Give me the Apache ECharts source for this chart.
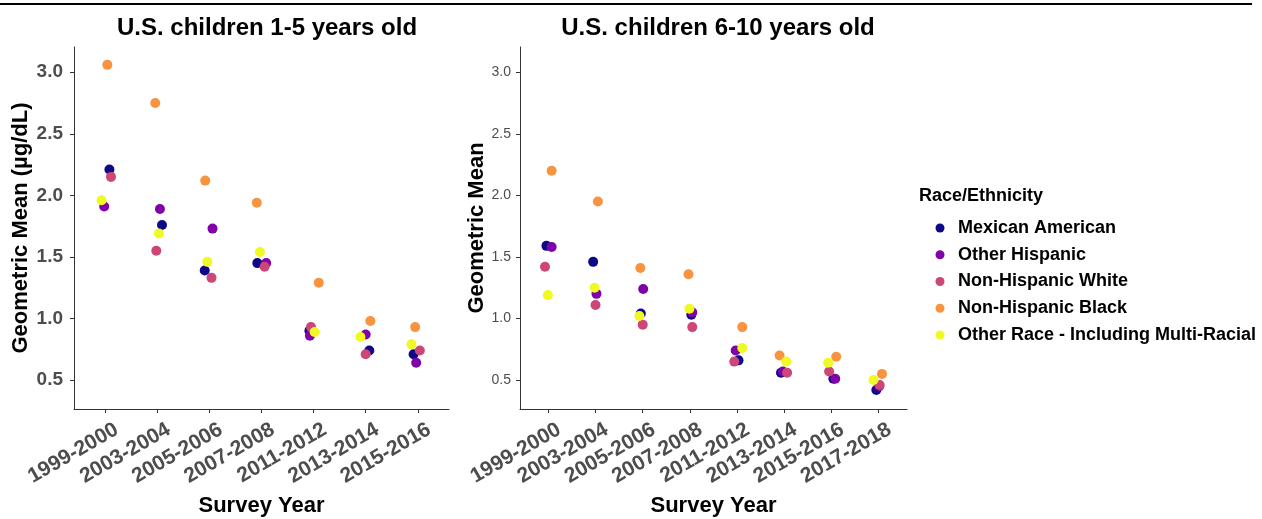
<!DOCTYPE html>
<html>
<head>
<meta charset="utf-8">
<script src="https://cdn.jsdelivr.net/npm/echarts@6/dist/echarts.min.js"></script>
<style>
html,body{margin:0;padding:0;background:#fff;}
#main{width:1262px;height:519px;}
</style>
</head>
<body>
<div id="main"></div>
<script>
// ---- categories ----
const yearsA = ['1999-2000','2003-2004','2005-2006','2007-2008','2011-2012','2013-2014','2015-2016'];
const yearsB = ['1999-2000','2003-2004','2005-2006','2007-2008','2011-2012','2013-2014','2015-2016','2017-2018'];
const groups = ['Mexican American','Other Hispanic','Non-Hispanic White','Non-Hispanic Black','Other Race - Including Multi-Racial'];
const colors = ['#0D0887','#7E03A8','#CC4678','#F89441','#F0F921'];
const yTicks = [0.5, 1.0, 1.5, 2.0, 2.5, 3.0];

// ---- panel A: children 1-5 years (geometric mean, µg/dL) ----
const mexicanA   = [2.21, 1.76, 1.39, 1.45, 0.90, 0.74, 0.71];
const otherHispA = [1.91, 1.89, 1.73, 1.45, 0.86, 0.87, 0.64];
const whiteA     = [2.15, 1.55, 1.33, 1.42, 0.93, 0.71, 0.74];
const blackA     = [3.06, 2.75, 2.12, 1.94, 1.29, 0.98, 0.93];
const otherRaceA = [1.96, 1.69, 1.46, 1.54, 0.89, 0.85, 0.79];
// horizontal jitter (category units)
const jitMexicanA   = [0.08, 0.09, -0.09, -0.08, -0.08, 0.07, -0.08];
const jitOtherHispA = [-0.02, 0.05, 0.06, 0.09, -0.07, 0.00, -0.03];
const jitWhiteA     = [0.11, -0.02, 0.04, 0.06, -0.05, 0.00, 0.04];
const jitBlackA     = [0.04, -0.04, -0.08, -0.09, 0.10, 0.09, -0.05];
const jitOtherRaceA = [-0.07, 0.03, -0.04, -0.03, 0.02, -0.10, -0.12];

// ---- panel B: children 6-10 years ----
const mexicanB   = [1.59, 1.46, 1.04, 1.03, 0.66, 0.56, 0.51, 0.42];
const otherHispB = [1.58, 1.20, 1.24, 1.05, 0.74, 0.57, 0.51, 0.45];
const whiteB     = [1.42, 1.11, 0.95, 0.93, 0.65, 0.56, 0.57, 0.46];
const blackB     = [2.20, 1.95, 1.41, 1.36, 0.93, 0.70, 0.69, 0.55];
const otherRaceB = [1.19, 1.25, 1.02, 1.08, 0.76, 0.65, 0.64, 0.50];
const jitMexicanB   = [-0.04, -0.05, -0.04, 0.03, 0.03, -0.07, 0.04, -0.05];
const jitOtherHispB = [0.07, 0.02, 0.01, 0.05, -0.03, -0.03, 0.08, 0.01];
const jitWhiteB     = [-0.07, 0.00, 0.00, 0.05, -0.06, 0.06, -0.05, 0.02];
const jitBlackB     = [0.07, 0.05, -0.05, -0.03, 0.11, -0.10, 0.10, 0.07];
const jitOtherRaceB = [-0.01, -0.02, -0.07, -0.01, 0.11, 0.04, -0.07, -0.11];

const valsA = [mexicanA, otherHispA, whiteA, blackA, otherRaceA];
const jitA  = [jitMexicanA, jitOtherHispA, jitWhiteA, jitBlackA, jitOtherRaceA];
const valsB = [mexicanB, otherHispB, whiteB, blackB, otherRaceB];
const jitB  = [jitMexicanB, jitOtherHispB, jitWhiteB, jitBlackB, jitOtherRaceB];

const FONT = '"Liberation Sans", Arial, sans-serif';
const GREY = '#4D4D4D';
const LABEL_SHIFT = 0.12; // rotated tick labels sit slightly right of their tick

function xAxesFor(idx, cats) {
  const ticks = cats.map((c, i) => i);
  const main = {
    type: 'value', gridIndex: idx, min: -0.6, max: cats.length - 1 + 0.6,
    splitLine: {show: false},
    axisLine: {show: true, onZero: false, lineStyle: {color: '#333', width: 1}},
    axisTick: {show: true, length: 4, customValues: ticks, lineStyle: {color: '#333'}},
    axisLabel: {show: false},
    name: 'Survey Year', nameLocation: 'middle', nameGap: 86,
    nameTextStyle: {fontFamily: FONT, fontWeight: 'bold', fontSize: 22, color: '#000'}
  };
  const labels = {
    type: 'value', gridIndex: idx, position: 'bottom', min: -0.6, max: cats.length - 1 + 0.6,
    splitLine: {show: false}, axisLine: {show: false}, axisTick: {show: false},
    axisLabel: {
      customValues: ticks.map(t => t + LABEL_SHIFT), rotate: 30, margin: 10,
      align: 'right', verticalAlign: 'top',
      formatter: v => cats[Math.round(v - LABEL_SHIFT)],
      fontFamily: FONT, fontWeight: 'bold', fontSize: 21, color: GREY
    }
  };
  return [main, labels];
}
function yAxisFor(idx, name, big, gap) {
  return {
    type: 'value', gridIndex: idx, min: 0.265, max: 3.205,
    splitLine: {show: false},
    axisLine: {show: true, onZero: false, lineStyle: {color: '#333', width: 1}},
    axisTick: {show: true, length: 4, customValues: yTicks, lineStyle: {color: '#333'}},
    axisLabel: {
      customValues: yTicks, margin: big ? 11 : 9,
      formatter: v => v.toFixed(1),
      fontFamily: FONT, fontWeight: big ? 'bold' : 'normal', fontSize: big ? 19 : 14, color: GREY
    },
    name: name, nameLocation: 'middle', nameGap: gap,
    nameTextStyle: {fontFamily: FONT, fontWeight: 'bold', fontSize: 22, color: '#000'}
  };
}

const series = [];
[[valsA, jitA, 0], [valsB, jitB, 2]].forEach(([vals, jit, xi], gi) => {
  groups.forEach((g, k) => {
    series.push({
      type: 'scatter', name: g, xAxisIndex: xi, yAxisIndex: gi,
      symbol: 'circle', symbolSize: 10,
      itemStyle: {color: colors[k], opacity: 1},
      emphasis: {disabled: true},
      data: vals[k].map((v, i) => [i + jit[k][i], v])
    });
  });
});

const chart = echarts.init(document.getElementById('main'), null, {renderer: 'canvas'});
chart.setOption({
  animation: false,
  backgroundColor: '#fff',
  color: colors,
  title: [
    {text: 'U.S. children 1-5 years old', left: 262, top: 11, textAlign: 'center',
     textStyle: {fontFamily: FONT, fontWeight: 'bold', fontSize: 24, color: '#000'}},
    {text: 'U.S. children 6-10 years old', left: 713, top: 11, textAlign: 'center',
     textStyle: {fontFamily: FONT, fontWeight: 'bold', fontSize: 24, color: '#000'}}
  ],
  grid: [
    {left: 74, top: 47, width: 375, height: 362, outerBoundsMode: 'none', containLabel: false},
    {left: 520, top: 47, width: 387, height: 362, outerBoundsMode: 'none', containLabel: false}
  ],
  xAxis: [...xAxesFor(0, yearsA), ...xAxesFor(1, yearsB)],
  yAxis: [yAxisFor(0, 'Geometric Mean (µg/dL)', true, 42), yAxisFor(1, 'Geometric Mean', false, 32)],
  legend: {
    data: groups, orient: 'vertical', left: 930.5, top: 213,
    icon: 'circle', itemWidth: 26, itemHeight: 9, itemGap: 6.75,
    selectedMode: false,
    textStyle: {fontFamily: FONT, fontWeight: 'bold', fontSize: 18, lineHeight: 20, color: '#000'}
  },
  graphic: [
    {type: 'line', shape: {x1: 0, y1: 4, x2: 1252, y2: 4}, style: {stroke: '#000', lineWidth: 2}, silent: true},
    {type: 'text', left: 919, top: 187, silent: true,
     style: {text: 'Race/Ethnicity', fontFamily: FONT, fontWeight: 'bold', fontSize: 18, fill: '#000'}}
  ],
  series: series
});
</script>
</body>
</html>
